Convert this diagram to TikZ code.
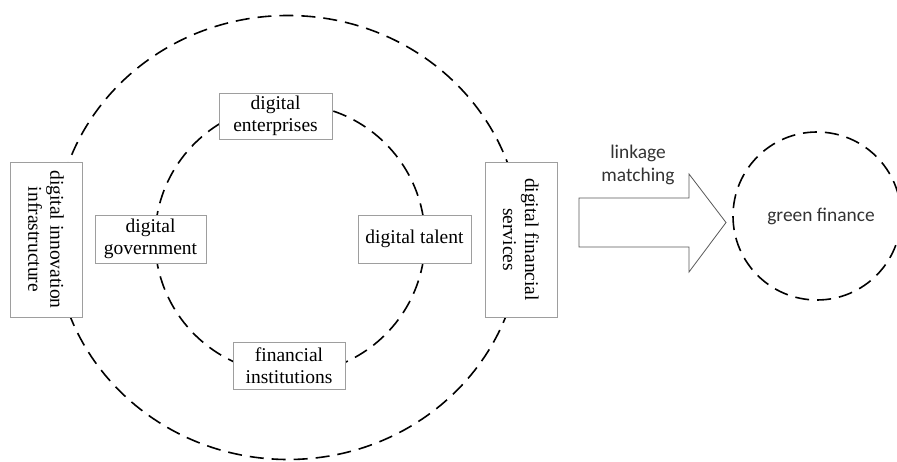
\documentclass[tikz,border=0pt]{standalone}
\usepackage{fontspec}
\setmainfont{Liberation Serif}
\newfontfamily\labelsans{Carlito}
\begin{document}
\begin{tikzpicture}[x=1pt,y=-1pt,
  ring/.style={draw=black,line width=1.6pt,dash pattern=on 14pt off 8pt},
  factor/.style={draw=black!38,line width=0.8pt,fill=white,inner sep=0pt,
    align=center,font=\fontsize{19.5}{22}\selectfont},
  sidefactor/.style={factor,rotate=-90,minimum width=155pt,minimum height=72pt},
  sanslabel/.style={inner sep=0pt,align=center,font=\labelsans\fontsize{19.4}{23}\selectfont,text=black!80},
  blockarrow/.style={draw=black!65,line width=0.8pt,fill=white}]
\useasboundingbox (0,0) rectangle (897,462);
\begin{scope}
\clip (0,0) rectangle (897,462);
% dashed rings
\draw[ring] (288,237.5) ellipse [x radius=233pt, y radius=222pt];
\draw[ring] (290,239) circle [radius=135pt];
\draw[ring] (817,216) circle [radius=84pt];
\end{scope}
% factors on the inner ring
\node[factor,minimum width=113pt,minimum height=46pt] (ent) at (275.5,116) {digital\\enterprises};
\node[factor,minimum width=111pt,minimum height=48pt] (gov) at (150.5,239) {digital\\government};
\node[factor,minimum width=113pt,minimum height=48pt] (tal) at (414.5,239) {digital talent};
\node[factor,minimum width=112pt,minimum height=47pt] (fin) at (289,365.5) {financial\\institutions};
% factors on the outer ring
\node[sidefactor] (infra) at (46,239.5) {digital innovation\\infrastructure};
\node[sidefactor] (dfs) at (521,239.5) {digital financial\\services};
% block arrow
\coordinate (a1) at (579,198);
\coordinate (a2) at (689,198);
\coordinate (a3) at (689,174);
\coordinate (tip) at (726,222.5);
\coordinate (a5) at (689,272);
\coordinate (a6) at (689,247);
\coordinate (a7) at (579,247);
\draw[blockarrow] (a1) -- (a2) -- (a3) -- (tip) -- (a5) -- (a6) -- (a7) -- cycle;
\node[sanslabel] (link) at (638,164.5) {linkage\\matching};
\node[sanslabel] (green) at (821,216) {green finance};
\end{tikzpicture}
\end{document}
